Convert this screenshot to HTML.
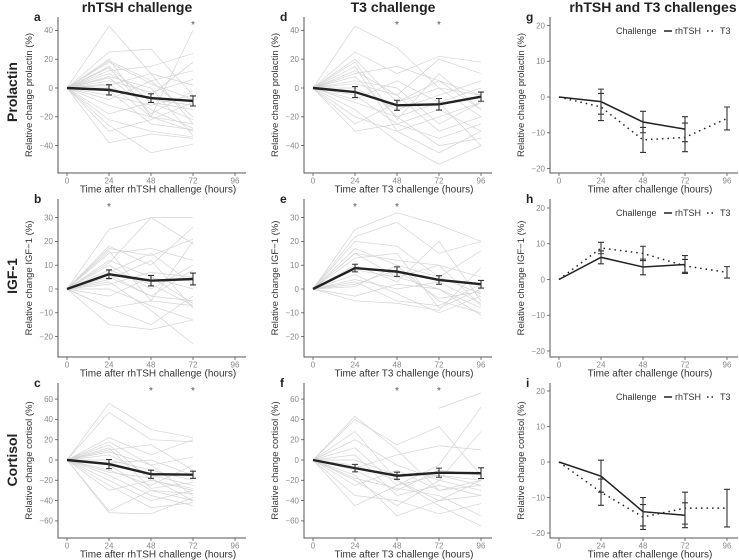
<!DOCTYPE html>
<html><head><meta charset="utf-8"><style>
body{margin:0;background:#fff;}
svg{display:block;font-family:"Liberation Sans",sans-serif;}
</style></head><body>
<svg id="fig" width="739" height="560"></svg>
<script>
const hours=[0,24,48,72,96];
const aInd=[[43,10,-25],[25,27,-5],[20,-20,-30],[19,5,12],[15,-10,-22],[12,15,24],[10,-5,18],[8,0,-33],[7,-15,-28],[5,-3,6],[3,-20,40],[2,10,2],[0,-8,-12],[-2,-25,-29],[-5,-12,-5],[-8,5,-20],[-12,-20,-25],[-18,-10,-15],[-22,-30,-34],[-26,-45,-39],[-30,-22,-10],[-38,-32,-35],[14,-18,-2],[18,3,-8]];
const aMean=[0,-1.3,-7,-9];const aErr=[0,3.5,3,3.5];
const bInd=[[25,30,30],[18,10,26],[17,14,21],[16,-5,20],[15,17,12],[12,5,-6],[10,0,10],[8,2,-7],[7,15,2],[5,-3,8],[4,12,-8],[3,-9,-23],[2,7,5],[0,-7,-13],[-3,5,0],[-8,-5,-7],[-8,-15,-3],[-15,-17,-13],[11,30,19],[6,-3,-5]];
const bMean=[0,6.2,3.5,4.2];const bErr=[0,1.8,2.2,2.5];
const cInd=[[56,30,22],[47,20,18],[22,5,20],[18,-5,-35],[15,-20,-30],[10,15,-10],[5,-15,-25],[0,-10,-20],[-5,-30,-40],[-10,-25,-5],[-15,-35,-45],[-20,-40,-30],[-25,-47,-42],[-30,-20,-28],[-52,-53,-37],[-50,-30,-33],[8,-5,3],[-3,0,-15],[12,-28,-22],[-12,-18,-40]];
const cMean=[0,-4,-14,-14.5];const cErr=[0,4.5,4,3.5];
const dInd=[[43,28,0,-20],[25,10,22,18],[20,-10,5,-5],[15,-30,-45,-30],[12,-5,20,10],[10,15,5,-15],[8,-20,-10,-40],[5,0,-25,-10],[0,-15,-5,5],[-5,-25,-35,-25],[-10,-20,-40,-35],[-15,-37,-53,-40],[-20,-30,-20,-10],[-25,-10,0,-5],[-30,-25,-15,-30],[3,-5,-30,-20],[-8,5,-10,0],[18,-22,10,-15]];
const dMean=[0,-2.8,-12,-11.3,-6];const dErr=[0,3.8,3.5,4,3.2];
const eInd=[[25,32,27,20],[22,28,15,20],[20,18,5,16],[17,10,-5,-10],[15,5,10,5],[13,15,-8,0],[10,3,20,-5],[8,5,0,-8],[6,-2,-10,-3],[4,0,3,-6],[3,-5,-7,2],[1,10,5,-2],[-3,2,0,-11],[-5,-6,-9,9],[2,8,-4,-1],[15,12,10,-7]];
const eMean=[0,8.8,7.3,3.8,2.0];const eErr=[0,1.6,2,1.8,1.6];
const fInd=[[43,10,-30,-20],[40,15,33,-15],[28,-20,-45,-65],[20,-5,-20,28],[12,-25,-5,52],[5,-35,-25,-35],[0,-15,-15,-25],[-5,-20,-40,-20],[-10,-30,-10,-15],[-15,-55,-40,-35],[-20,-45,-20,-30],[-25,-10,-30,-25],[-35,-40,-53,-43],[-45,-25,-15,-20],[-8,5,14,10],[-18,-28,-35,-55]];
const fPartial=[51,66];
const fMean=[0,-8,-15.5,-12.5,-13];const fErr=[0,3.7,3.5,4.5,5.3];
const iR=[0,-4,-14,-15];const iRe=[0,4.5,4,3.5];const iT=[0,-8.5,-15.5,-13,-13];const iTe=[0,3.7,3.5,4.5,5.3];
const ticksA=[40,20,0,-20,-40];const ticksB=[30,20,10,0,-10,-20];const ticksC=[60,40,20,0,-20,-40,-60];const ticksG=[20,10,0,-10,-20];

const NS="http://www.w3.org/2000/svg";const svg=document.getElementById('fig');
function el(t,a,p){const e=document.createElementNS(NS,t);for(const k in a)e.setAttribute(k,a[k]);(p||svg).appendChild(e);return e;}
function txt(s,a,p){const e=el('text',a,p);e.textContent=s;return e;}
const cols=[58,304,550];const rows=[{top:17,bot:173},{top:199,bot:357},{top:383,bot:538}];
function mkPanel(ci,ri,zeroY,ppu,ticks,ylabel,xlabel,letter,name){
  const g=el('g',{});
  
  
  const L=cols[ci],R=rows[ri];
  const x=h=>L+9+h*(168/96);const y=v=>zeroY-v*ppu;
  const ax=el('path',{d:`M${L},${R.top}V${R.bot}H${L+188}`,stroke:'#555',fill:'none','stroke-width':1},g);
  
  
  ticks.forEach(t=>{el('line',{x1:L-3,x2:L,y1:y(t),y2:y(t),stroke:'#555','stroke-width':0.8},g);
    const tl=txt(String(t).replace('-','−'),{x:L-5,y:y(t)+2.8,'font-size':8,fill:'#888','text-anchor':'end'},g);
    
    });
  hours.forEach(h=>{el('line',{x1:x(h),x2:x(h),y1:R.bot,y2:R.bot+3,stroke:'#555','stroke-width':0.8},g);
    const tl=txt(String(h),{x:x(h),y:R.bot+10.5,'font-size':8,fill:'#888','text-anchor':'middle'},g);
    
    });
  const yl=txt(ylabel,{x:0,y:0,'font-size':9.5,fill:'#333','text-anchor':'middle',transform:`translate(${L-26},${(R.top+R.bot)/2}) rotate(-90)`},g);
  
  
  const xl=txt(xlabel,{x:L+100,y:R.bot+19.5,'font-size':10,fill:'#333','text-anchor':'middle'},g);
  
  
  const lt=txt(letter,{x:L-24,y:R.top+4,'font-size':12,'font-weight':'bold',fill:'#222'},g);
  
  
  return {g,x,y,R};
}
function spaghetti(p,ind,mean,err,stars){
  ind.forEach(r=>{const vals=[0].concat(r);
    const pl=el('polyline',{points:vals.map((v,i)=>p.x(hours[i])+','+p.y(v)).join(' '),fill:'none',stroke:'#d4d4d4','stroke-width':0.7},p.g);
    
    });
  const ml=el('polyline',{points:mean.map((v,i)=>p.x(hours[i])+','+p.y(v)).join(' '),fill:'none',stroke:'#222','stroke-width':2.4},p.g);
  
  
  mean.forEach((v,i)=>{if(i==0)return;errbar(p,hours[i],v,err[i],'#333');});
  stars.forEach(h=>{const s=txt('*',{x:p.x(h),y:p.R.top+11,'font-size':10,fill:'#555','text-anchor':'middle'},p.g);
    
    });
}
function errbar(p,h,v,e,c){const X=p.x(h);
  const b=el('path',{d:`M${X},${p.y(v+e)}V${p.y(v-e)}M${X-3},${p.y(v+e)}H${X+3}M${X-3},${p.y(v-e)}H${X+3}`,stroke:c,'stroke-width':1.1,fill:'none'},p.g);
  
  }
function combined(p,m1,e1,m2,e2){
  const l2=el('polyline',{points:m2.map((v,i)=>p.x(hours[i])+','+p.y(v)).join(' '),fill:'none',stroke:'#222','stroke-width':1.5,'stroke-dasharray':'1.5,4'},p.g);
  
  
  const l1=el('polyline',{points:m1.map((v,i)=>p.x(hours[i])+','+p.y(v)).join(' '),fill:'none',stroke:'#222','stroke-width':1.5},p.g);
  
  
  m1.forEach((v,i)=>{if(i)errbar(p,hours[i],v,e1[i],'#333');});
  m2.forEach((v,i)=>{if(i)errbar(p,hours[i],v,e2[i],'#333');});
  const lg=el('g',{},p.g);
  
  
  const ly=p.R.top+14;
  txt('Challenge',{x:616,y:ly+3,'font-size':9,fill:'#333'},lg);
  el('line',{x1:664,x2:672,y1:ly,y2:ly,stroke:'#222','stroke-width':1.5},lg);
  txt('rhTSH',{x:675,y:ly+3,'font-size':9,fill:'#333'},lg);
  el('line',{x1:707,x2:716,y1:ly,y2:ly,stroke:'#222','stroke-width':1.5,'stroke-dasharray':'1.5,3'},lg);
  txt('T3',{x:720,y:ly+3,'font-size':9,fill:'#333'},lg);
}
[['rhTSH challenge',137],['T3 challenge',393],['rhTSH and T3 challenges',653]].forEach(t=>{
  const e=txt(t[0],{x:t[1],y:12,'font-size':14,'font-weight':'bold',fill:'#222','text-anchor':'middle'});
  
  });
[['Prolactin',92],['IGF-1',276],['Cortisol',460]].forEach(t=>{
  const e=txt(t[0],{x:0,y:0,'font-size':14,'font-weight':'bold',fill:'#222','text-anchor':'middle',transform:`translate(17,${t[1]}) rotate(-90)`});
  
  });
const xR='Time after rhTSH challenge (hours)',xT='Time after T3 challenge (hours)',xC='Time after challenge (hours)';
let p;
p=mkPanel(0,0,88,1.44,ticksA,'Relative change prolactin (%)',xR,'a','panel-a');spaghetti(p,aInd,aMean,aErr,[72]);
p=mkPanel(0,1,289,2.38,ticksB,'Relative change IGF−1 (%)',xR,'b','panel-b');spaghetti(p,bInd,bMean,bErr,[24]);
p=mkPanel(0,2,460,1.015,ticksC,'Relative change cortisol (%)',xR,'c','panel-c');spaghetti(p,cInd,cMean,cErr,[48,72]);
p=mkPanel(1,0,88,1.44,ticksA,'Relative change prolactin (%)',xT,'d','panel-d');spaghetti(p,dInd,dMean,dErr,[48,72]);
p=mkPanel(1,1,289,2.38,ticksB,'Relative change IGF−1 (%)',xT,'e','panel-e');spaghetti(p,eInd,eMean,eErr,[24,48]);
p=mkPanel(1,2,460,1.015,ticksC,'Relative change cortisol (%)',xT,'f','panel-f');spaghetti(p,fInd,fMean,fErr,[48,72]);
{const pl=el('line',{x1:p.x(72),y1:p.y(fPartial[0]),x2:p.x(96),y2:p.y(fPartial[1]),stroke:'#d4d4d4','stroke-width':0.7},p.g);
 
 }
p=mkPanel(2,0,97,3.575,ticksG,'Relative change prolactin (%)',xC,'g','panel-g');combined(p,aMean,aErr,dMean,dErr);
p=mkPanel(2,1,279.5,3.575,ticksG,'Relative change IGF−1 (%)',xC,'h','panel-h');combined(p,bMean,bErr,eMean,eErr);
p=mkPanel(2,2,462,3.55,ticksG,'Relative change cortisol (%)',xC,'i','panel-i');combined(p,iR,iRe,iT,iTe);
</script>
</body></html>
